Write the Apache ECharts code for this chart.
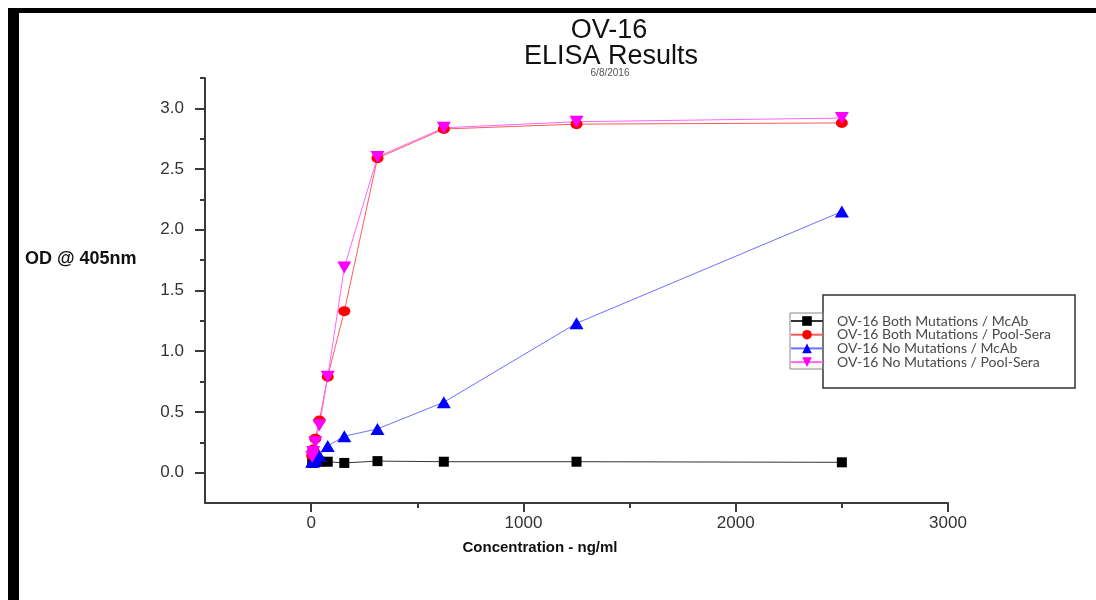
<!DOCTYPE html>
<html>
<head>
<meta charset="utf-8">
<title>OV-16 ELISA Results</title>
<script src="https://cdn.jsdelivr.net/npm/echarts@6/dist/echarts.min.js"></script>
<style>
  html, body { margin: 0; padding: 0; background: #fff; }
  #chart { width: 1096px; height: 600px; }
</style>
</head>
<body>
<div id="chart"></div>
<script>
// concentration (ng/ml) of each dilution step
const conc = [2500, 1250, 625, 312.5, 156.25, 78.13, 39.06, 19.53, 9.77, 4.88];
// OD @ 405nm for each series
const bothMcAb = [0.085, 0.09, 0.09, 0.095, 0.08, 0.09, 0.09, 0.085, 0.085, 0.08];
const bothPool = [2.88, 2.87, 2.83, 2.59, 1.33, 0.79, 0.43, 0.28, 0.19, 0.14];
const noMcAb = [2.15, 1.23, 0.58, 0.36, 0.30, 0.22, 0.14, 0.11, 0.10, 0.09];
const noPool = [2.92, 2.89, 2.84, 2.60, 1.69, 0.79, 0.39, 0.25, 0.17, 0.13];

const seriesNames = [
  'OV-16 Both Mutations / McAb',
  'OV-16 Both Mutations / Pool-Sera',
  'OV-16 No Mutations / McAb',
  'OV-16 No Mutations / Pool-Sera'
];

// tick labels
const xLabels = [0, 1000, 2000, 3000];
const xMinor = [500, 1500, 2500];
const yLabels = [0, 0.5, 1, 1.5, 2, 2.5, 3];
const yMinor = [0.25, 0.75, 1.25, 1.75, 2.25, 2.75, 3.25];

function pairs(ys) {
  return conc.map((x, i) => [x, ys[i]]);
}

const axisColor = '#3a3a3a';
const font = 'Liberation Sans, Arial, sans-serif';

let myChart = echarts.init(document.getElementById('chart'));

function makeSeries(name, ys, symbol, size, color, lineColor, rotate) {
  return {
    name: name,
    type: 'line',
    data: pairs(ys),
    symbol: symbol,
    symbolSize: size,
    symbolRotate: rotate || 0,
    showAllSymbol: true,
    itemStyle: { color: color },
    lineStyle: { color: lineColor, width: 1 },
    emphasis: { disabled: true },
    animation: false
  };
}

myChart.setOption({
  animation: false,
  title: [
    { text: 'OV-16', left: 609, top: 17, padding: 0, textAlign: 'center',
      textStyle: { fontFamily: font, fontWeight: 'normal', fontSize: 27, lineHeight: 27, color: '#111' } },
    { text: 'ELISA Results', left: 611, top: 43, padding: 0, textAlign: 'center',
      textStyle: { fontFamily: font, fontWeight: 'normal', fontSize: 27, lineHeight: 27, color: '#111' } },
    { text: '6/8/2016', left: 610, top: 68, padding: 0, textAlign: 'center',
      textStyle: { fontFamily: font, fontWeight: 'normal', fontSize: 10, lineHeight: 10, color: '#555' } }
  ],
  grid: { left: 205, right: 148, top: 78, bottom: 97 },
  legend: {
    data: seriesNames,
    orient: 'vertical',
    left: 790,
    top: 314,
    itemWidth: 32,
    itemHeight: 12,
    itemGap: -0.3,
    padding: 0,
    selectedMode: false,
    textStyle: { fontFamily: 'Lato, sans-serif', fontSize: 14, lineHeight: 13, color: '#4a4a4a', padding: [0, 0, 0, 9] }
  },
  xAxis: [
    {
      type: 'value', position: 'bottom', min: -500, max: 3000,
      splitLine: { show: false },
      axisLine: { onZero: false, lineStyle: { color: axisColor, width: 2 } },
      axisTick: { customValues: xLabels, length: 9, lineStyle: { color: axisColor, width: 2 } },
      axisLabel: { customValues: xLabels, margin: 12, fontFamily: font, fontSize: 17, color: '#333',
        formatter: v => String(v) }
    },
    {
      type: 'value', position: 'bottom', min: -500, max: 3000,
      splitLine: { show: false },
      axisLine: { show: false, onZero: false },
      axisTick: { customValues: xMinor, length: 5, lineStyle: { color: axisColor, width: 2 } },
      axisLabel: { show: false }
    }
  ],
  yAxis: [
    {
      type: 'value', position: 'left', min: -0.25, max: 3.25,
      splitLine: { show: false },
      axisLine: { show: true, onZero: false, lineStyle: { color: axisColor, width: 2 } },
      axisTick: { show: true, customValues: yLabels, length: 10, lineStyle: { color: axisColor, width: 2 } },
      axisLabel: { customValues: yLabels, margin: 21, fontFamily: font, fontSize: 17, color: '#333',
        formatter: v => v.toFixed(1) }
    },
    {
      type: 'value', position: 'left', min: -0.25, max: 3.25,
      splitLine: { show: false },
      axisLine: { show: false, onZero: false },
      axisTick: { show: true, customValues: yMinor, length: 5, lineStyle: { color: axisColor, width: 2 } },
      axisLabel: { show: false }
    }
  ],
  graphic: [
    // page frame
    { type: 'rect', shape: { x: 8, y: 8, width: 11, height: 592 }, style: { fill: '#000' } },
    { type: 'rect', shape: { x: 8, y: 8, width: 1088, height: 5 }, style: { fill: '#000' } },
    // axis titles
    { type: 'text', style: { text: 'OD @ 405nm', x: 25, y: 259, textVerticalAlign: 'middle',
        font: 'bold 18px Liberation Sans, Arial, sans-serif', fill: '#111' } },
    { type: 'text', style: { text: 'Concentration - ng/ml', x: 540, y: 548, textAlign: 'center', textVerticalAlign: 'middle',
        font: 'bold 15px Liberation Sans, Arial, sans-serif', fill: '#111' } },
    // legend boxes
    { type: 'rect', shape: { x: 823, y: 295, width: 252, height: 93 },
      style: { fill: 'none', stroke: '#333', lineWidth: 1.5 } },
    { type: 'rect', shape: { x: 790, y: 313, width: 33, height: 56 },
      style: { fill: 'none', stroke: '#888', lineWidth: 1 } }
  ],
  series: [
    makeSeries(seriesNames[0], bothMcAb, 'rect', 10, '#000', '#333'),
    makeSeries(seriesNames[1], bothPool, 'circle', [12, 10], '#ff0000', '#ff5a5a'),
    makeSeries(seriesNames[2], noMcAb, 'triangle', [14, 12], '#0000ff', '#7070ff'),
    makeSeries(seriesNames[3], noPool, 'triangle', [14, 12], '#ff00ff', '#ff66ff', 180)
  ]
});
</script>
</body>
</html>
